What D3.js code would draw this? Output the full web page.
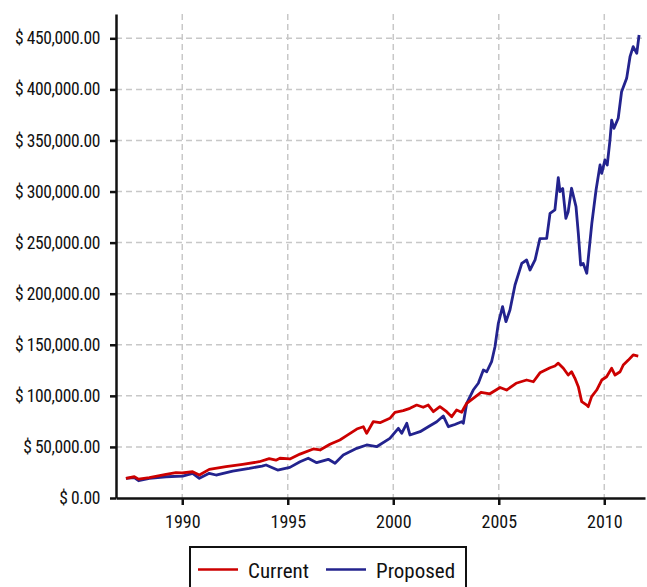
<!DOCTYPE html>
<html>
<head>
<meta charset="utf-8">
<script src="https://cdn.jsdelivr.net/npm/d3@7"></script>
<style>
    body { margin: 0; background: #fff; }
    svg text { font-family: Roboto, sans-serif; font-stretch: condensed; fill: #111; }
    .grid line { stroke: #c8c8c8; stroke-width: 1.5; stroke-dasharray: 6,4; }
    .axis path, .axis line { stroke: #111; stroke-width: 2.5; }
</style>
</head>
<body>
<div id="chart"></div>
<script>
// values (decimal years, dollars)
const currentYears = [
    1987.33, 1987.73, 1987.93, 1988.44, 1989.23, 1989.70, 1989.99, 1990.49, 1990.81, 1991.28,
    1992.07, 1992.86, 1993.65, 1994.12, 1994.44, 1994.63, 1995.10, 1995.58, 1996.21, 1996.53,
    1997.00, 1997.47, 1997.79, 1998.27, 1998.58, 1998.74, 1999.05, 1999.37, 1999.84, 2000.08,
    2000.47, 2000.79, 2001.11, 2001.42, 2001.66, 2001.90, 2002.21, 2002.53, 2002.77, 2003.00,
    2003.24, 2003.48, 2003.79, 2004.16, 2004.58, 2005.06, 2005.37, 2005.82, 2006.32, 2006.64,
    2006.95, 2007.43, 2007.66, 2007.82, 2008.06, 2008.29, 2008.45, 2008.61, 2008.77, 2008.93,
    2009.17, 2009.24, 2009.40, 2009.64, 2009.88, 2010.11, 2010.35, 2010.51, 2010.75, 2010.90,
    2011.14, 2011.37, 2011.61
];
const currentValues = [
    19300, 20800, 18500, 19900, 23200, 24800, 24500, 25700, 22500, 28000,
    30600, 33000, 35500, 38500, 37000, 38900, 38200, 43000, 48000, 47000,
    52600, 56800, 61000, 67500, 69800, 63300, 74700, 73700, 78000, 83900,
    85500, 87800, 91000, 88800, 91000, 84500, 89400, 84500, 79600, 86100,
    84000, 92700, 97600, 103500, 102000, 108200, 105700, 112300, 115500, 113800,
    122500, 127500, 129200, 132000, 127000, 120400, 123600, 117200, 109000, 94300,
    91000, 89400, 99200, 105700, 115500, 118700, 127000, 120400, 123600, 130200,
    135000, 140000, 139000
];

const proposedYears = [
    1987.33, 1987.73, 1987.93, 1988.44, 1989.23, 1990.02, 1990.49, 1990.81, 1991.28, 1991.60,
    1992.39, 1993.18, 1993.78, 1993.97, 1994.52, 1995.10, 1995.58, 1995.97, 1996.37, 1996.92,
    1997.24, 1997.63, 1998.27, 1998.74, 1999.21, 1999.84, 2000.24, 2000.40, 2000.64, 2000.79,
    2001.27, 2001.66, 2002.06, 2002.37, 2002.61, 2002.92, 2003.24, 2003.32, 2003.48, 2003.79,
    2004.03, 2004.27, 2004.43, 2004.66, 2004.82, 2004.98, 2005.18, 2005.34, 2005.53, 2005.77,
    2006.09, 2006.32, 2006.48, 2006.72, 2006.95, 2007.27, 2007.43, 2007.66, 2007.82, 2007.90,
    2008.03, 2008.18, 2008.29, 2008.45, 2008.66, 2008.77, 2008.88, 2009.00, 2009.17, 2009.41,
    2009.61, 2009.80, 2009.88, 2010.03, 2010.14, 2010.27, 2010.35, 2010.46, 2010.66, 2010.82,
    2011.06, 2011.22, 2011.37, 2011.54, 2011.65
];
const proposedValues = [
    19300, 20000, 16900, 19300, 20800, 21500, 24200, 19300, 24200, 22500,
    26400, 29000, 31300, 32300, 27400, 30000, 35500, 38900, 34600, 37900,
    34000, 42000, 48600, 51900, 50200, 58400, 68200, 63300, 73100, 61700,
    64900, 69800, 74700, 80300, 69800, 72000, 74700, 73100, 92700, 105700,
    112300, 125300, 123600, 133400, 148100, 171000, 187300, 172600, 184000, 208500,
    229700, 233000, 223200, 233000, 254000, 254200, 278700, 282000, 313500, 300000,
    303000, 273800, 280300, 303200, 285200, 259100, 228100, 229700, 220000, 268900,
    301500, 326000, 317800, 330900, 326000, 350400, 370000, 361900, 371700, 397700,
    410800, 432000, 441800, 435300, 453200
];

const yearTicks = [1990, 1995, 2000, 2005, 2010];
const valueTicks = [0, 50000, 100000, 150000, 200000, 250000, 300000, 350000, 400000, 450000];
const seriesNames = ['Current', 'Proposed'];
const seriesColors = ['#cc0000', '#23238e'];

const margin = {top: 14, right: 2, bottom: 89, left: 116};
const width = 647 - margin.left - margin.right;
const height = 587 - margin.top - margin.bottom;

const x = d3.scaleLinear()
    .domain([1986.86, 2011.93])
    .range([0, width]);

const y = d3.scaleLinear()
    .domain([0, 473800])
    .range([height, 0]);

const svg = d3.select('#chart').append('svg')
    .attr('width', 647)
    .attr('height', 587);

const g = svg.append('g')
    .attr('transform', 'translate(' + margin.left + ',' + margin.top + ')');

// grid
const grid = g.append('g').attr('class', 'grid');
grid.selectAll('line.h')
    .data(valueTicks.filter(v => v > 0))
    .enter().append('line')
    .attr('class', 'h')
    .attr('x1', 0).attr('x2', width)
    .attr('y1', d => y(d)).attr('y2', d => y(d));
grid.selectAll('line.v')
    .data(yearTicks)
    .enter().append('line')
    .attr('class', 'v')
    .attr('y1', 0).attr('y2', height)
    .attr('x1', d => x(d)).attr('x2', d => x(d));

const line = d3.line()
    .x(d => x(d[0]))
    .y(d => y(d[1]));

const series = [
    d3.zip(currentYears, currentValues),
    d3.zip(proposedYears, proposedValues)
];

// proposed under current
[1, 0].forEach(i => {
    g.append('path')
        .datum(series[i])
        .attr('fill', 'none')
        .attr('stroke', seriesColors[i])
        .attr('stroke-width', 2.8)
        .attr('stroke-linejoin', 'round')
        .attr('d', line);
});

g.append('g')
    .attr('class', 'axis')
    .attr('transform', 'translate(0,' + height + ')')
    .call(d3.axisBottom(x)
        .tickValues(yearTicks)
        .tickFormat(d3.format('d'))
        .tickSize(7)
        .tickSizeOuter(0)
        .tickPadding(10))
    .selectAll('text')
    .attr('font-size', 18);

g.append('g')
    .attr('class', 'axis')
    .call(d3.axisLeft(y)
        .tickValues(valueTicks)
        .tickFormat(v => '$ ' + d3.format(',.2f')(v))
        .tickSize(6)
        .tickSizeOuter(0)
        .tickPadding(10))
    .selectAll('text')
    .attr('font-size', 17.5)
    .attr('letter-spacing', -0.4);

svg.selectAll('.axis text')
    .attr('font-family', null);

// legend
const legend = svg.append('g');
legend.append('rect')
    .attr('x', 190).attr('y', 547)
    .attr('width', 276).attr('height', 60)
    .attr('fill', '#fff')
    .attr('stroke', '#111')
    .attr('stroke-width', 2);

const legendX = [198, 326];
seriesNames.forEach((name, i) => {
    legend.append('line')
        .attr('x1', legendX[i]).attr('x2', legendX[i] + 40)
        .attr('y1', 569.5).attr('y2', 569.5)
        .attr('stroke', seriesColors[i])
        .attr('stroke-width', 2.6);
    legend.append('text')
        .attr('x', legendX[i] + 50)
        .attr('y', 578)
        .attr('font-size', 21)
        .text(name);
});
</script>
</body>
</html>
